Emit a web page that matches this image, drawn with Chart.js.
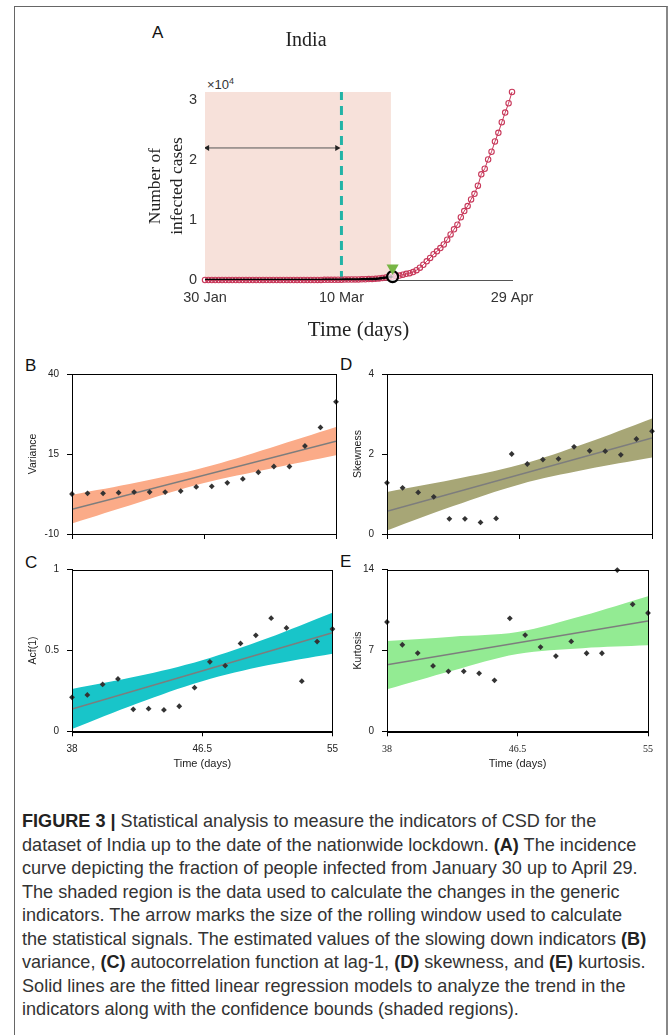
<!DOCTYPE html>
<html>
<head>
<meta charset="utf-8">
<script src="https://cdn.jsdelivr.net/npm/chart.js@4.4.0/dist/chart.umd.min.js"></script>
<style>
  body { margin: 0; width: 670px; height: 1035px; overflow: hidden; background: #fff; position: relative;
         font-family: "Liberation Sans", Arial, sans-serif; }
  canvas { position: absolute; }
  .frame { position: absolute; left: 14px; top: 6px; width: 651px; height: 1100px;
           border: 1.5px solid #666; border-right: 2px solid #888; }
  .lbl { position: absolute; font-size: 17px; line-height: 1; color: #111; }
  .exp { position: absolute; left: 207px; top: 77px; font-size: 13px; line-height: 1; color: #333; }
  .exp sup { font-size: 9px; vertical-align: 5px; }
  #caption { position: absolute; left: 22px; top: 810px; font-family: "Liberation Sans Narrow", "Liberation Sans", sans-serif;
             font-size: 18.1px; line-height: 23.5px; color: #333; white-space: nowrap; }
  #caption b { color: #222; }
</style>
</head>
<body>
<div class="frame"></div>

<div class="lbl" style="left:152px; top:24px;">A</div>
<div class="lbl" style="left:25px; top:357px;">B</div>
<div class="lbl" style="left:340px; top:356px;">D</div>
<div class="lbl" style="left:25px; top:554px;">C</div>
<div class="lbl" style="left:340px; top:553px;">E</div>
<div class="exp">&times;10<sup>4</sup></div>

<canvas id="chartA" width="460" height="330" style="left:100px; top:20px;"></canvas>
<canvas id="chartB" width="325" height="200" style="left:20px; top:360px;"></canvas>
<canvas id="chartD" width="325" height="200" style="left:335px; top:360px;"></canvas>
<canvas id="chartC" width="325" height="225" style="left:20px; top:555px;"></canvas>
<canvas id="chartE" width="325" height="225" style="left:335px; top:555px;"></canvas>

<div id="caption">
<b>FIGURE 3 |</b> Statistical analysis to measure the indicators of CSD for the<br>
dataset of India up to the date of the nationwide lockdown. <b>(A)</b> The incidence<br>
curve depicting the fraction of people infected from January 30 up to April 29.<br>
The shaded region is the data used to calculate the changes in the generic<br>
indicators. The arrow marks the size of the rolling window used to calculate<br>
the statistical signals. The estimated values of the slowing down indicators <b>(B)</b><br>
variance, <b>(C)</b> autocorrelation function at lag-1, <b>(D)</b> skewness, and <b>(E)</b> kurtosis.<br>
Solid lines are the fitted linear regression models to analyze the trend in the<br>
indicators along with the confidence bounds (shaded regions).
</div>

<script>
// panel A: cumulative infected cases, one value per day from 30 Jan (day 0) to 29 Apr (day 90)
const cases = [1, 1, 1, 1, 2, 3,
  3, 3, 3, 3, 3, 3, 3, 3, 3, 3, 3, 3, 3, 3, 3, 3, 3, 3, 3, 3, 3, 3, 3, 3, 3, 3, 3,
  5, 6, 28, 30, 31, 34, 39, 48, 63, 71, 81, 91, 102, 112, 126, 146, 171, 198,
  256, 334, 403, 497, 571, 657, 735, 886, 1029, 1139, 1326, 1635, 2059, 2545, 3105,
  3684, 4293, 4778, 5311, 5916, 6725, 7598, 8446, 9205, 10453, 11487, 12322, 13430,
  14352, 15722, 17615, 18539, 20080, 21370, 23077, 24530, 26283, 27890, 29451, 31324];
const dateTicks = [0, 40, 90];
const dateLabels = ['30 Jan', '10 Mar', '29 Apr'];
const caseTicks = [0, 10000, 20000, 30000];
const windowEnd = 54.5;      // end of shaded data window
const rollDay = 40;          // dashed line (rolling window size)
const arrowSpan = [0.7, 38.7];
const arrowY = 22000;
const lockdownDay = 55;
const markerY = 2000;        // green marker above lockdown point

// panels B-E: indicators, days 38..55
const days = [38, 39, 40, 41, 42, 43, 44, 45, 46, 47, 48, 49, 50, 51, 52, 53, 54, 55];
const xTicks = [38, 46.5, 55];
const bandX = [38, 42.25, 46.5, 50.75, 55];
const fitX = [38, 55];

const varianceVals = [2.5, 2.7, 2.7, 2.9, 3.1, 3.1, 3.1, 3.4, 4.7, 4.9, 6.0, 7.2, 9.3, 11.1, 11.1, 17.5, 23.3, 31.3];
const varianceFit = [-2.3, 19.0];
const varianceUpper = [2.3, 6.2, 10.8, 16.9, 23.4];
const varianceLower = [-6.7, -0.2, 5.9, 10.4, 14.6];
const varianceTicks = [-10, 15, 40];

const acfVals = [0.21, 0.225, 0.29, 0.324, 0.136, 0.14, 0.132, 0.155, 0.27, 0.43, 0.406, 0.544, 0.594, 0.70, 0.64, 0.31, 0.555, 0.633];
const acfFit = [0.138, 0.61];
const acfUpper = [0.262, 0.34, 0.44, 0.576, 0.734];
const acfLower = [0.014, 0.172, 0.31, 0.408, 0.48];
const acfTicks = [0, 0.5, 1];

const skewVals = [1.28, 1.155, 1.04, 0.93, 0.38, 0.38, 0.29, 0.39, 2.0, 1.75, 1.86, 1.88, 2.18, 2.08, 2.07, 1.98, 2.375, 2.57];
const skewFit = [0.57, 2.4];
const skewUpper = [1.05, 1.36, 1.73, 2.27, 2.89];
const skewLower = [0.09, 0.70, 1.24, 1.61, 1.91];
const skewTicks = [0, 2, 4];

const kurtVals = [9.47, 7.5, 6.78, 5.66, 5.2, 5.2, 5.02, 4.42, 9.79, 8.34, 7.3, 6.52, 7.79, 6.76, 6.76, 13.97, 11.0, 10.25];
const kurtFit = [5.77, 9.55];
const kurtUpper = [7.82, 8.2, 8.6, 10.0, 11.69];
const kurtLower = [3.64, 5.25, 6.7, 7.2, 7.45];
const kurtTicks = [0, 7, 14];

const SANS = 'Liberation Sans';
const SERIF = 'Liberation Serif';
const NONE = 'rgba(0,0,0,0)';
const pts = (xs, ys) => xs.map((x, i) => ({ x, y: ys[i] }));

const framePlugin = {
  id: 'frame',
  afterDatasetsDraw(chart) {
    const { ctx, chartArea: a } = chart;
    ctx.save();
    ctx.strokeStyle = '#000';
    ctx.lineWidth = 1;
    ctx.strokeRect(Math.round(a.left) + 0.5, Math.round(a.top) + 0.5,
      Math.round(a.right - a.left), Math.round(a.bottom - a.top));
    ctx.restore();
  }
};

// ---- panel A ----
const yTopA = Math.max(...cases);
const caseDays = cases.map((v, i) => i);

new Chart(document.getElementById('chartA'), {
  type: 'line',
  data: {
    datasets: [
      { data: pts([0, windowEnd], [yTopA, yTopA]), fill: 'origin', backgroundColor: '#f7e1da',
        borderColor: NONE, borderWidth: 0, pointRadius: 0, order: 10 },
      { data: pts([rollDay, rollDay], [0, yTopA]), borderColor: '#22b3a6', borderWidth: 3,
        borderDash: [9, 6], pointRadius: 0, order: 9 },
      { data: pts(arrowSpan, [arrowY, arrowY]), borderColor: '#555', borderWidth: 1,
        pointStyle: 'triangle', pointRadius: 3.5, pointRotation: [-90, 90],
        pointBackgroundColor: '#222', pointBorderWidth: 0, order: 8 },
      { data: pts(caseDays, cases), borderColor: '#c8385a', borderWidth: 1, pointStyle: 'circle',
        pointRadius: 2.7, pointBorderWidth: 1.1, pointBorderColor: '#c8385a',
        pointBackgroundColor: NONE, clip: false, order: 5 },
      { data: pts(caseDays.slice(0, lockdownDay + 1), cases.slice(0, lockdownDay + 1)),
        borderColor: '#000', borderWidth: 2.5, pointRadius: 0, order: 3 },
      { data: [{ x: lockdownDay, y: cases[lockdownDay] }], showLine: false, pointRadius: 5.5,
        pointBorderWidth: 2.2, pointBorderColor: '#000', pointBackgroundColor: 'rgba(255,255,255,0.7)',
        clip: false, order: 2 },
      { data: [{ x: lockdownDay, y: markerY }], showLine: false, pointStyle: 'triangle',
        pointRotation: 180, pointRadius: 7, pointBackgroundColor: '#77b545', pointBorderWidth: 0,
        clip: false, order: 1 }
    ]
  },
  options: {
    responsive: false, animation: false, devicePixelRatio: 1, events: [],
    layout: { padding: { top: 0, right: 48, left: 0, bottom: 0 }, autoPadding: false },
    plugins: {
      legend: { display: false }, tooltip: { enabled: false },
      title: { display: true, text: 'India', color: '#222', font: { family: SERIF, size: 20, weight: 'normal' },
               padding: { top: 9, bottom: 39 } }
    },
    scales: {
      x: {
        type: 'linear', min: 0, max: 90,
        afterBuildTicks: s => { s.ticks = dateTicks.map(v => ({ value: v })); },
        afterFit: s => { s.height = 70; },
        grid: { display: false, drawTicks: false },
        border: { color: '#555', width: 1 },
        ticks: { callback: v => dateLabels[dateTicks.indexOf(v)], color: '#333', padding: 9,
                 font: { family: SANS, size: 14.5 }, maxRotation: 0, autoSkip: false },
        title: { display: true, text: 'Time (days)', color: '#222', font: { family: SERIF, size: 21 },
                 padding: { top: 0, bottom: 7 } }
      },
      y: {
        min: 0, max: yTopA,
        afterBuildTicks: s => { s.ticks = caseTicks.map(v => ({ value: v })); },
        afterFit: s => { s.width = 105; },
        grid: { display: false, drawTicks: false },
        border: { color: '#444', width: 1 },
        ticks: { callback: v => v / 10000, color: '#333', padding: 8, font: { family: SANS, size: 14.5 } },
        title: { display: true, text: ['Number of', 'infected cases'], color: '#222',
                 font: { family: SERIF, size: 17.5, lineHeight: 1.257 }, padding: { top: 44, bottom: 0 } }
      }
    }
  }
});

// ---- panels B-E ----
function makePanel(id, o) {
  new Chart(document.getElementById(id), {
    type: 'scatter',
    data: {
      datasets: [
        { type: 'line', data: pts(bandX, o.upper), borderColor: NONE, borderWidth: 0, pointRadius: 0,
          tension: 0.35, fill: false, order: 3 },
        { type: 'line', data: pts(bandX, o.lower), borderColor: NONE, borderWidth: 0, pointRadius: 0,
          tension: 0.35, fill: '-1', backgroundColor: o.band, order: 3 },
        { type: 'line', data: pts(fitX, o.fit), borderColor: '#7d7d7d', borderWidth: 1.5,
          pointRadius: 0, order: 2 },
        { data: pts(days, o.vals), pointStyle: 'rectRot', pointRadius: 2.9, backgroundColor: '#333',
          borderWidth: 0, clip: false, order: 1 }
      ]
    },
    options: {
      responsive: false, animation: false, devicePixelRatio: 1, events: [],
      layout: { padding: { top: o.padTop, right: o.padRight, left: 0, bottom: 0 }, autoPadding: false },
      plugins: { legend: { display: false }, tooltip: { enabled: false } },
      scales: {
        x: {
          type: 'linear', min: 38, max: 55,
          afterBuildTicks: s => { s.ticks = xTicks.map(v => ({ value: v })); },
          afterFit: s => { s.height = o.xHeight; },
          grid: { drawOnChartArea: false, tickLength: 5, color: '#000' },
          border: { color: '#000', width: 1 },
          ticks: { display: o.xLabels, color: '#222', padding: 7, maxRotation: 0, autoSkip: false,
                   callback: v => String(v), font: { family: o.xFont, size: 10 } },
          title: { display: o.xLabels, text: 'Time (days)', color: '#222', font: { family: SANS, size: 11 },
                   padding: { top: 0, bottom: 9 } }
        },
        y: {
          min: o.ticks[0], max: o.ticks[o.ticks.length - 1],
          afterBuildTicks: s => { s.ticks = o.ticks.map(v => ({ value: v })); },
          afterFit: s => { s.width = 52; },
          grid: { drawOnChartArea: false, tickLength: 5, color: '#000' },
          border: { color: '#000', width: 1 },
          ticks: { color: '#222', padding: 8, callback: v => String(v), font: { family: SANS, size: 10 } },
          title: { display: true, text: o.title, color: '#222', font: { family: SANS, size: 10.5 },
                   padding: { top: o.titlePad, bottom: 0 } }
        }
      }
    },
    plugins: [framePlugin]
  });
}

makePanel('chartB', { vals: varianceVals, fit: varianceFit, upper: varianceUpper, lower: varianceLower,
  ticks: varianceTicks, band: '#fbab88', title: 'Variance', titlePad: 6.5, padTop: 12, padRight: 9,
  xHeight: 26, xLabels: false, xFont: SANS });
makePanel('chartD', { vals: skewVals, fit: skewFit, upper: skewUpper, lower: skewLower,
  ticks: skewTicks, band: '#a7a676', title: 'Skewness', titlePad: 17, padTop: 12, padRight: 8,
  xHeight: 26, xLabels: false, xFont: SANS });
makePanel('chartC', { vals: acfVals, fit: acfFit, upper: acfUpper, lower: acfLower,
  ticks: acfTicks, band: '#18c5c9', title: 'Acf(1)', titlePad: 6.5, padTop: 14.7, padRight: 9,
  xHeight: 48.7, xLabels: true, xFont: SANS });
makePanel('chartE', { vals: kurtVals, fit: kurtFit, upper: kurtUpper, lower: kurtLower,
  ticks: kurtTicks, band: '#93eb93', title: 'Kurtosis', titlePad: 17, padTop: 14.7, padRight: 8,
  xHeight: 48.7, xLabels: true, xFont: SERIF });
</script>
</body>
</html>
